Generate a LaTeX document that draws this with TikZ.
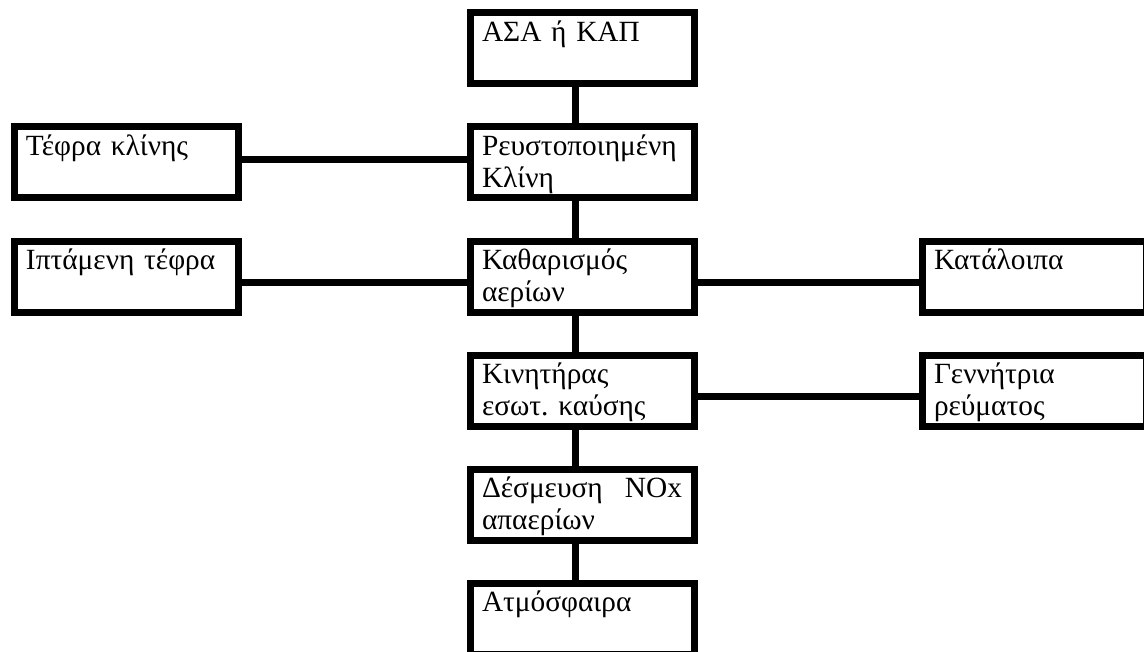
\documentclass[tikz,border=0pt]{standalone}
\usepackage{fontspec}
\setmainfont{Liberation Serif}
\usetikzlibrary{positioning}

\tikzset{
  block/.style={draw, line width=5.25pt, outer sep=0pt, minimum width=168pt,
    minimum height=53.25pt, text width=150pt, inner xsep=9pt, inner ysep=0pt,
    align=left, font=\fontsize{22}{24}\selectfont,
    execute at begin node=\rule{0pt}{21pt}, execute at end node=\strut},
  link/.style={line width=5.25pt}
}

\begin{document}
\begin{tikzpicture}[node distance=32.25pt and 174pt]
  \useasboundingbox (0,0) rectangle (858pt,-489pt);
  % main column
  \node[block, anchor=north west] (asa) at (352.5pt,-9.75pt) {ΑΣΑ ή ΚΑΠ\\};
  \node[block, below=of asa] (bed) {Ρευστοποιημένη\\Κλίνη};
  \node[block, below=of bed] (clean) {Καθαρισμός\\αερίων};
  \node[block, below=of clean] (engine) {Κινητήρας\\εσωτ.\ καύσης};
  \node[block, below=of engine] (denox) {Δέσμευση\hfill NOx\\απαερίων};
  \node[block, below=of denox] (atm) {Ατμόσφαιρα\\};
  % side boxes
  \node[block, left=of bed] (bedash) {Τέφρα κλίνης\\};
  \node[block, left=of clean] (flyash) {Ιπτάμενη τέφρα\\};
  \node[block, right=171pt of clean] (residue) {Κατάλοιπα\\};
  \node[block, right=171pt of engine] (gen) {Γεννήτρια\\ρεύματος};
  % connectors
  \draw[link] ([xshift=-5pt]asa.south) -- ([xshift=-5pt]bed.north);
  \draw[link] ([xshift=-5pt]bed.south) -- ([xshift=-5pt]clean.north);
  \draw[link] ([xshift=-5pt]clean.south) -- ([xshift=-5pt]engine.north);
  \draw[link] ([xshift=-5pt]engine.south) -- ([xshift=-5pt]denox.north);
  \draw[link] ([xshift=-5pt]denox.south) -- ([xshift=-5pt]atm.north);
  \draw[link] ([yshift=2pt]bedash.east) -- ([yshift=2pt]bed.west);
  \draw[link] ([yshift=-4.5pt]flyash.east) -- ([yshift=-4.5pt]clean.west);
  \draw[link] ([yshift=-4.5pt]clean.east) -- ([yshift=-4.5pt]residue.west);
  \draw[link] ([yshift=-4.5pt]engine.east) -- ([yshift=-4.5pt]gen.west);
\end{tikzpicture}
\end{document}
